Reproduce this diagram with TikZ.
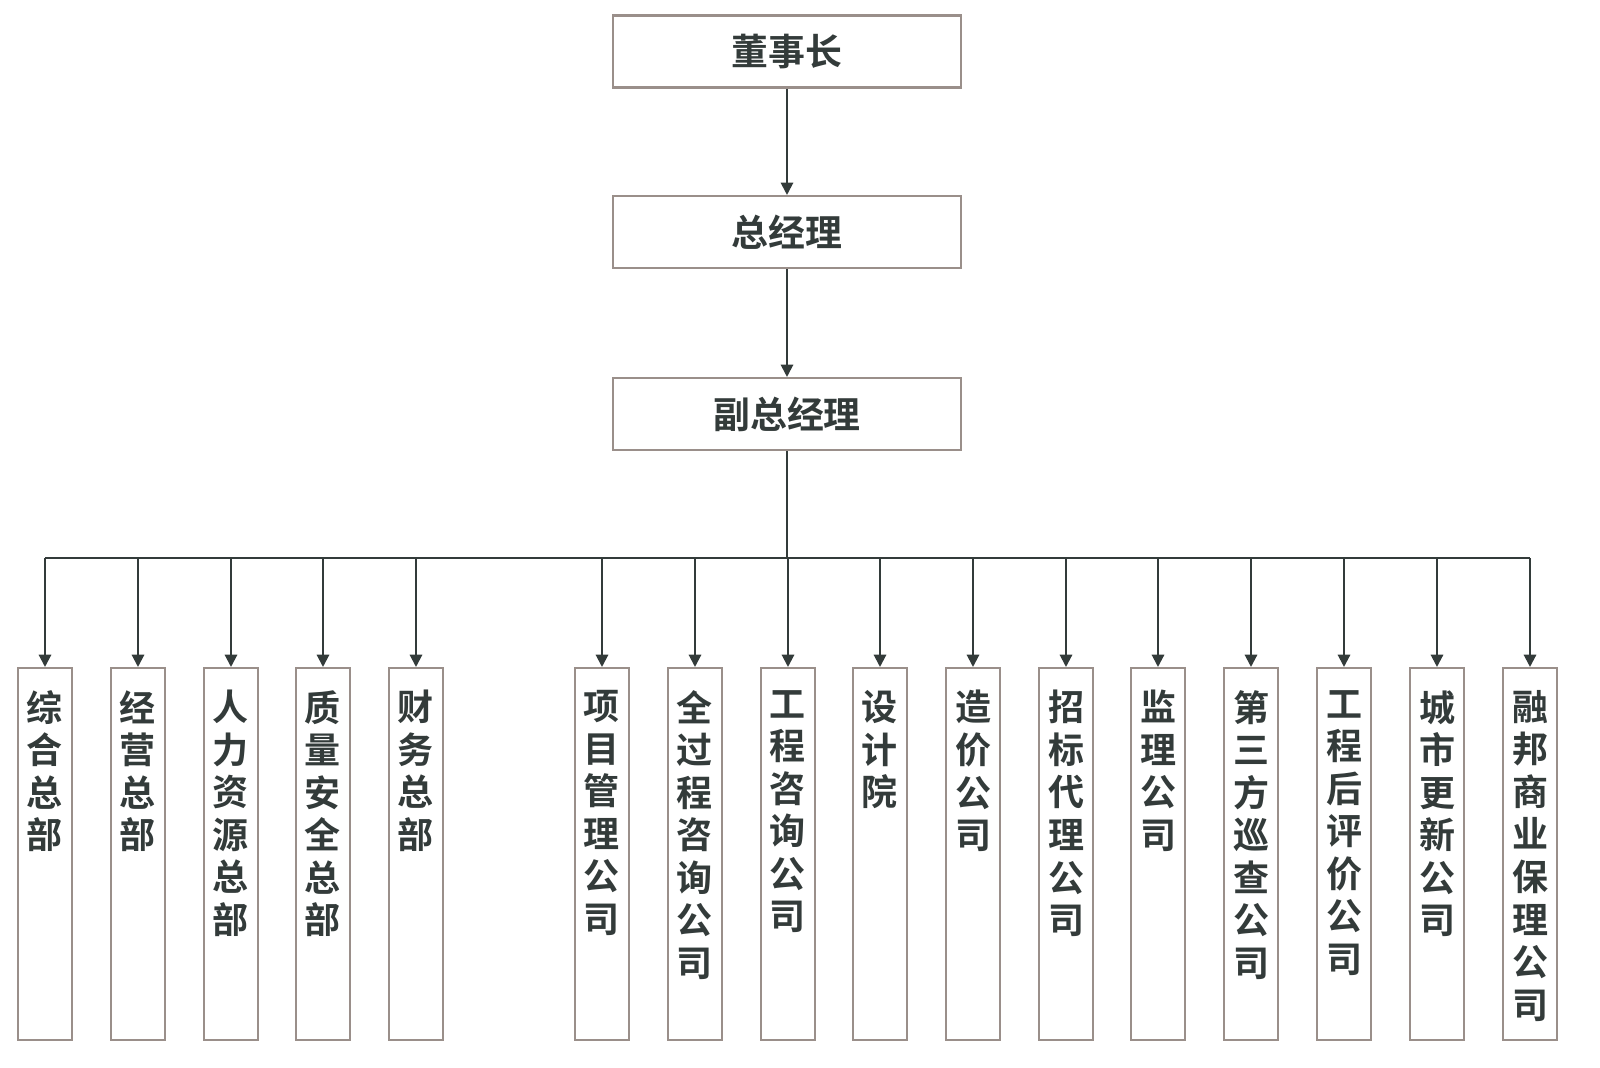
\documentclass[tikz,border=0pt]{standalone}
\usepackage{fontspec}
\setmainfont{Noto Sans CJK SC}[BoldFont={* Bold}]
\usetikzlibrary{arrows.meta}
\definecolor{bd}{HTML}{9A8F8A}
\definecolor{tx}{HTML}{333B3A}
\begin{document}
\begin{tikzpicture}[x=0.02cm,y=-0.02cm,
 top/.style={draw=bd,line width=1.2pt,minimum width=6.96cm,minimum height=1.44cm,font=\fontsize{21}{25}\bfseries\selectfont,text=tx},
 box/.style={draw=bd,line width=1.2pt,minimum width=1.08cm,minimum height=7.44cm},
 vt/.style={anchor=north,align=center,font=\fontsize{20.5}{24.2}\bfseries\selectfont,text=tx,inner sep=0pt},
 ln/.style={draw=tx,line width=1.2pt},
 ar/.style={ln,-{Triangle[length=7pt,width=7pt]}}]
\useasboundingbox (0,0) rectangle (1600,1068);
\node[top] (a) at (787,51.5) {董事长};
\node[top] (b) at (787,232) {总经理};
\node[top] (c) at (787,414) {副总经理};
\draw[ar] (a) -- (b);
\draw[ar] (b) -- (c);
\coordinate (h) at (787,558);
\draw[ln] (c.south) -- (h);
\coordinate (hl) at (45,558);
\coordinate (hr) at (1530,558);
\draw[ln] (hl) -- (hr);
\foreach \x/\t [count=\i] in {45/综\\合\\总\\部,138/经\\营\\总\\部,231/人\\力\\资\\源\\总\\部,323/质\\量\\安\\全\\总\\部,416/财\\务\\总\\部,602/项\\目\\管\\理\\公\\司,695/全\\过\\程\\咨\\询\\公\\司,788/工\\程\\咨\\询\\公\\司,880/设\\计\\院,973/造\\价\\公\\司,1066/招\\标\\代\\理\\公\\司,1158/监\\理\\公\\司,1251/第\\三\\方\\巡\\查\\公\\司,1344/工\\程\\后\\评\\价\\公\\司,1437/城\\市\\更\\新\\公\\司,1530/融\\邦\\商\\业\\保\\理\\公\\司}{
 \node[box] (n\i) at (\x,854) {};
 \node[vt] (t\i) at (\x,690) {\t};
 \coordinate (j\i) at (\x,558);
 \draw[ar] (j\i) -- (n\i.north);
}
\end{tikzpicture}
\end{document}
